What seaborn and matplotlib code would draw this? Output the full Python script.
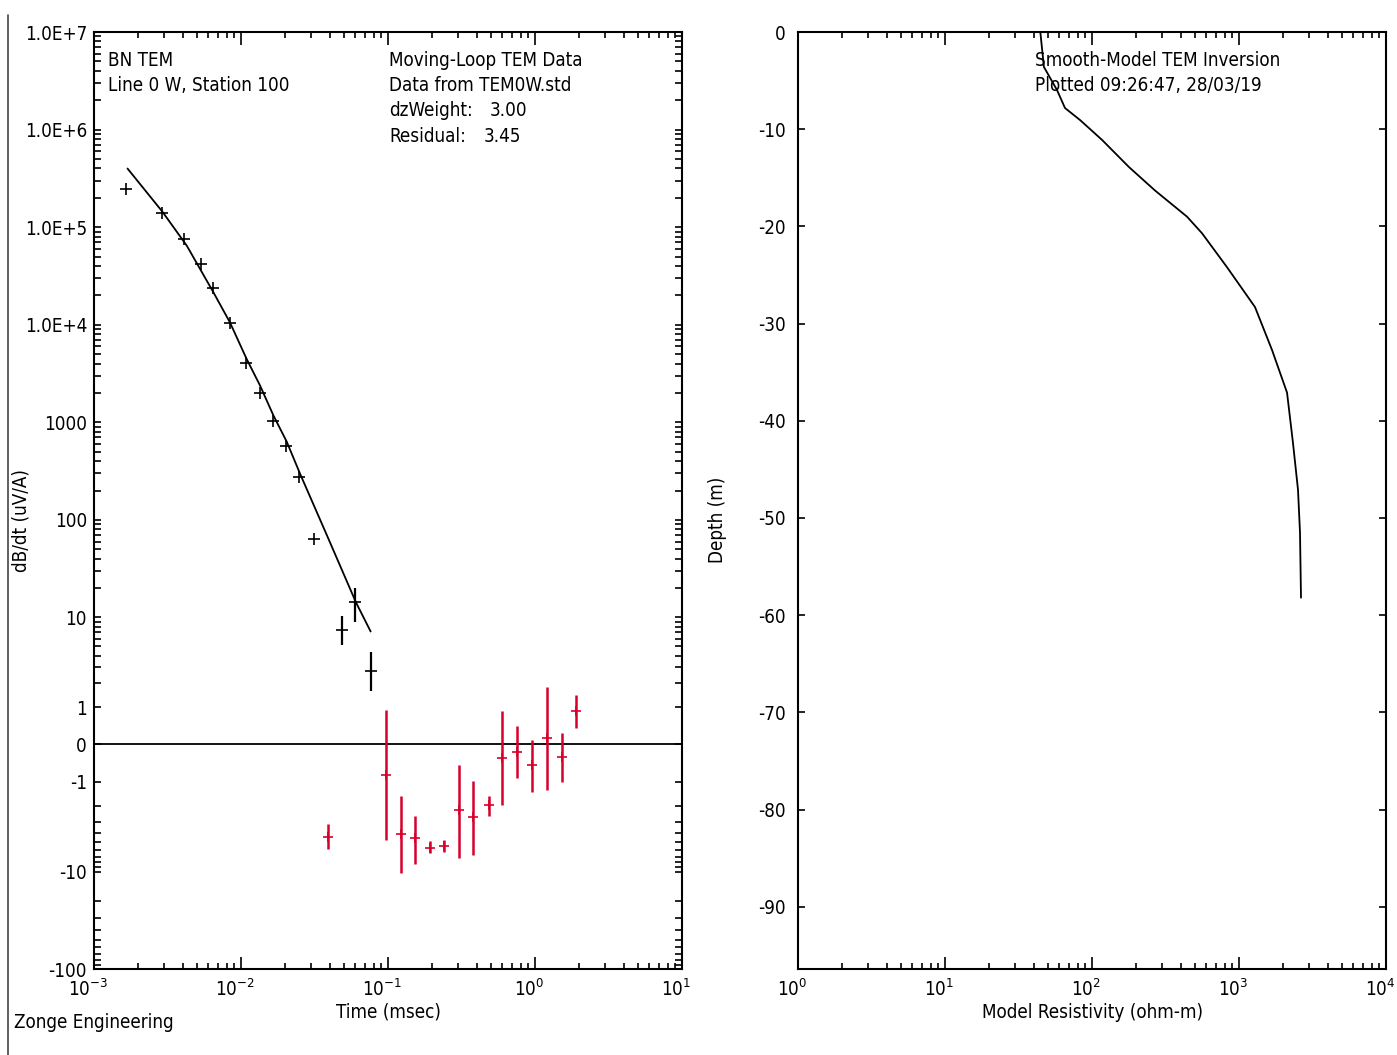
"""
Zonge TEM sounding: dB/dt decay with smooth-model fit, and the resistivity-depth model.
"""
import seaborn as sns
import matplotlib
matplotlib.use('Agg')
import matplotlib.pyplot as plt
import matplotlib.transforms as mtransforms
from matplotlib.lines import Line2D
import numpy as np
import pandas as pd

# decay data, positive values (black), time in msec
t_pos = [0.00165, 0.0029, 0.00409, 0.00535, 0.00645, 0.0084, 0.0108, 0.01346,
         0.0165, 0.0202, 0.0248, 0.0314, 0.0486, 0.0600, 0.0762]
v_pos = [2.48e5, 1.41e5, 7.6e4, 4.2e4, 2.36e4, 1.03e4, 4030, 1990,
         1030, 571, 275, 63, 7.43, 14.3, 2.72]
lo_pos = [2.48e5, 1.41e5, 7.6e4, 4.2e4, 2.36e4, 1.03e4, 4030, 1990,
          1030, 571, 275, 63, 5.12, 9.07, 1.61]
hi_pos = [2.48e5, 1.41e5, 7.6e4, 4.2e4, 2.36e4, 1.03e4, 4030, 1990,
          1030, 571, 275, 63, 10.36, 20.2, 4.36]

# late-time data (red), mostly negative
t_neg = [0.0389, 0.0968, 0.122, 0.152, 0.193, 0.2415, 0.304, 0.380,
         0.484, 0.597, 0.759, 0.951, 1.20, 1.52, 1.90]
v_neg = [-4.39, -0.773, -4.12, -4.54, -5.67, -5.45, -2.27, -2.69,
         -1.97, -0.323, -0.178, -0.510, 0.154, -0.306, 0.864]
lo_neg = [-5.90, -4.76, -10.3, -8.32, -6.50, -6.24, -7.19, -6.75,
          -2.62, -1.97, -0.873, -1.37, -1.28, -1.00, 0.399]
hi_neg = [-3.17, 0.917, -1.54, -2.60, -4.80, -4.76, -0.494, -0.978,
          -1.55, 0.864, 0.4417, 0.113, 1.80, 0.274, 1.46]

# smooth-model response
t_fit = [0.00169, 0.00292, 0.00428, 0.00649, 0.0084, 0.0109, 0.01346,
         0.0166, 0.0205, 0.0252, 0.0391, 0.0605, 0.0762]
v_fit = [3.99e5, 1.44e5, 6.45e4, 2.15e4, 1.06e4, 4490, 2390,
         1180, 630, 298, 65.4, 14.3, 7.15]

# smooth-model resistivity vs depth
rho = [44.5, 47.1, 57.8, 65.5, 82.8, 117, 178.6, 268, 443, 560, 829,
       1285, 1676, 2122, 2330, 2520, 2600, 2641]
depth = [0, -3.6, -5.97, -7.82, -9.05, -11.1, -13.9, -16.3, -19.0, -20.7,
         -24.2, -28.3, -32.7, -37.1, -42.3, -47.1, -51.5, -58.2]

y_ticks = [1e7, 1e6, 1e5, 1e4, 1000, 100, 10, 1, 0, -1, -10, -100]
y_ticklabels = ['1.0E+7', '1.0E+6', '1.0E+5', '1.0E+4', '1000', '100', '10',
                '1', '0', '-1', '-10', '-100']
depth_ticks = [0, -10, -20, -30, -40, -50, -60, -70, -80, -90]

sns.set_style('ticks')
plt.rcParams['font.family'] = ['DejaVu Sans']
plt.rcParams['font.stretch'] = 'condensed'
plt.rcParams['axes.unicode_minus'] = False
plt.rcParams['mathtext.default'] = 'regular'
plt.rcParams['axes.linewidth'] = 1.5
for key in ['text.color', 'axes.labelcolor', 'xtick.color', 'ytick.color',
            'axes.edgecolor']:
    plt.rcParams[key] = 'black'

FS = 13.5
RED = '#d8002a'

fig = plt.figure(figsize=(13.97, 10.55), dpi=100)
W, H = 1397.0, 1055.0
bottom = 1 - 969 / H
height = (969 - 32) / H
ax1 = fig.add_axes([94 / W, bottom, 588 / W, height])
ax2 = fig.add_axes([798 / W, bottom, 588 / W, height])

# ---- left panel: decay curve
ax1.set_xscale('log')
ax1.set_yscale('asinh', linear_width=1)
ax1.set_xlim(1e-3, 10)
ax1.set_ylim(-100, 1e7)

ax1.axhline(0, color='black', lw=1.3, zorder=1)

fit = pd.DataFrame({'time': t_fit, 'dbdt': v_fit})
sns.lineplot(data=fit, x='time', y='dbdt', ax=ax1, color='black', lw=1.3,
             estimator=None, sort=False)

v = np.array(v_pos)
ax1.errorbar(t_pos, v_pos, yerr=[v - np.array(lo_pos), np.array(hi_pos) - v],
             fmt='+', color='black', ms=8, mew=1.2, elinewidth=1.6, capsize=0)
v = np.array(v_neg)
ax1.errorbar(t_neg, v_neg, yerr=[v - np.array(lo_neg), np.array(hi_neg) - v],
             fmt='+', color=RED, ms=7, mew=1.2, elinewidth=1.8, capsize=0)

ax1.set_yticks(y_ticks)
ax1.set_yticklabels(y_ticklabels)
minor = []
for k in range(0, 7):
    minor += [m * 10 ** k for m in range(2, 10)]
minor += [-m for m in range(2, 10)] + [-m * 10 for m in range(2, 10)]
ax1.set_yticks(minor, minor=True)

ax1.tick_params(axis='both', which='both', direction='in', top=True, right=True,
                labelsize=FS, width=1.2)
ax1.tick_params(axis='x', which='major', length=9, pad=7)
ax1.tick_params(axis='x', which='minor', length=4.5)
ax1.tick_params(axis='y', which='both', length=5, pad=5)

ax1.set_xlabel('Time (msec)', fontsize=FS)
ax1.set_ylabel('dB/dt (uV/A)', fontsize=FS)
ax1.xaxis.set_label_coords(0.5, -0.036)
ax1.yaxis.set_label_coords(-0.108, 0.479)

ax1.text(0.024, 0.970, 'BN TEM', transform=ax1.transAxes, fontsize=FS, va='center')
ax1.text(0.024, 0.9434, 'Line 0 W, Station 100', transform=ax1.transAxes,
         fontsize=FS, va='center')
ax1.text(0.502, 0.970, 'Moving-Loop TEM Data', transform=ax1.transAxes,
         fontsize=FS, va='center')
ax1.text(0.502, 0.9434, 'Data from TEM0W.std', transform=ax1.transAxes,
         fontsize=FS, va='center')
ax1.text(0.502, 0.9157, 'dzWeight:', transform=ax1.transAxes, fontsize=FS, va='center')
ax1.text(0.6735, 0.9157, '3.00', transform=ax1.transAxes, fontsize=FS, va='center')
ax1.text(0.502, 0.889, 'Residual:', transform=ax1.transAxes, fontsize=FS, va='center')
ax1.text(0.663, 0.889, '3.45', transform=ax1.transAxes, fontsize=FS, va='center')

# ---- right panel: resistivity model
model = pd.DataFrame({'rho': rho, 'depth': depth})
sns.lineplot(data=model, x='rho', y='depth', ax=ax2, color='black', lw=1.3,
             estimator=None, sort=False)
ax2.set_xscale('log')
ax2.set_xlim(1, 1e4)
ax2.set_ylim(-96.4, 0)
ax2.set_yticks(depth_ticks)
ax2.set_yticklabels([str(d) for d in depth_ticks])

ax2.tick_params(axis='both', which='both', direction='in', top=True, right=True,
                labelsize=FS, width=1.2)
ax2.tick_params(axis='x', which='major', length=9, pad=7)
ax2.tick_params(axis='x', which='minor', length=4.5)
ax2.tick_params(axis='y', which='major', length=5, pad=9)

ax2.set_xlabel('Model Resistivity (ohm-m)', fontsize=FS)
ax2.set_ylabel('Depth (m)', fontsize=FS)
ax2.xaxis.set_label_coords(0.5, -0.036)
ax2.yaxis.set_label_coords(-0.121, 0.479)

ax2.text(0.403, 0.970, 'Smooth-Model TEM Inversion', transform=ax2.transAxes,
         fontsize=FS, va='center')
ax2.text(0.403, 0.9434, 'Plotted 09:26:47, 28/03/19', transform=ax2.transAxes,
         fontsize=FS, va='center')

# decade labels: the "10" sits on the tick, the exponent hangs to the right
shift = mtransforms.ScaledTranslation(-6 / 100, 0, fig.dpi_scale_trans)
for ax in (ax1, ax2):
    for label in ax.get_xticklabels():
        label.set_transform(label.get_transform() + shift)

fig.text(14 / W, 1 - 1023 / H, 'Zonge Engineering', fontsize=FS, va='center')
fig.add_artist(Line2D([8 / W, 8 / W], [0, 1 - 15 / H], color='#444444', lw=1.2))

fig.savefig('out.png', dpi=100)
